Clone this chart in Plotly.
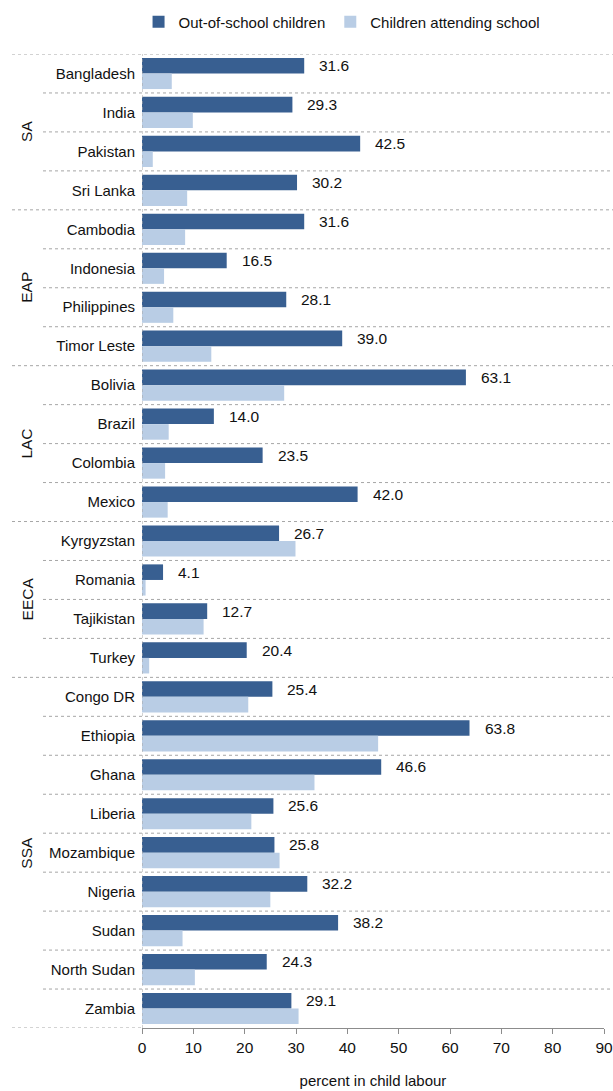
import plotly.graph_objects as go

countries = ["Bangladesh", "India", "Pakistan", "Sri Lanka",
             "Cambodia", "Indonesia", "Philippines", "Timor Leste",
             "Bolivia", "Brazil", "Colombia", "Mexico",
             "Kyrgyzstan", "Romania", "Tajikistan", "Turkey",
             "Congo DR", "Ethiopia", "Ghana", "Liberia", "Mozambique",
             "Nigeria", "Sudan", "North Sudan", "Zambia"]
regions = ["SA", "EAP", "LAC", "EECA", "SSA"]
region_sizes = [4, 4, 4, 4, 9]
out_of_school = [31.6, 29.3, 42.5, 30.2,
                 31.6, 16.5, 28.1, 39.0,
                 63.1, 14.0, 23.5, 42.0,
                 26.7, 4.1, 12.7, 20.4,
                 25.4, 63.8, 46.6, 25.6, 25.8, 32.2, 38.2, 24.3, 29.1]
attending = [5.8, 9.9, 2.1, 8.8,
             8.4, 4.3, 6.1, 13.5,
             27.7, 5.2, 4.5, 5.0,
             29.9, 0.7, 12.0, 1.4,
             20.7, 46.0, 33.6, 21.3, 26.8, 25.0, 7.9, 10.3, 30.5]
x_ticks = [0, 10, 20, 30, 40, 50, 60, 70, 80, 90]

DARK = "#385f91"
LIGHT = "#b9cde5"
FONT = "Liberation Sans, Arial, sans-serif"
FS = 15

W, H = 613, 1091
ML, MR, MT, MB = 142, 9, 54, 63
pw = W - ML - MR

def px2paper(px):
    return (px - ML) / pw

idx = list(range(len(countries)))
bargap = 0.2

fig = go.Figure()
fig.add_trace(go.Bar(y=idx, x=out_of_school, orientation="h", name="Out-of-school children",
                     marker=dict(color=DARK, line=dict(width=0))))
fig.add_trace(go.Bar(y=idx, x=attending, orientation="h", name="Children attending school",
                     marker=dict(color=LIGHT, line=dict(width=0))))

half = (1 - bargap) / 2
annotations = []
for i, v in enumerate(out_of_school):
    annotations.append(dict(x=v, y=i - half / 2, xref="x", yref="y", text=f"{v:.1f}",
                            showarrow=False, xanchor="left", xshift=13,
                            font=dict(family=FONT, size=FS + 0.5, color="#111111")))

shapes = []
start = 0
group_bounds = set()
for r, n in zip(regions, region_sizes):
    group_bounds.add(start - 0.5)
    mid = start + (n - 1) / 2
    annotations.append(dict(x=px2paper(27), y=mid, xref="paper", yref="y", text=r,
                            showarrow=False, textangle=-90, xanchor="center", yanchor="middle",
                            font=dict(family=FONT, size=FS + 0.5, color="#111111")))
    start += n
group_bounds.add(start - 0.5)

for k in range(len(countries) + 1):
    b = k - 0.5
    x0 = px2paper(12) if b in group_bounds else px2paper(43)
    x1 = px2paper(613) if k < len(countries) else px2paper(ML)
    shapes.append(dict(type="line", xref="paper", yref="y", x0=x0, x1=x1, y0=b, y1=b,
                       line=dict(color="#a6a6a6", width=1, dash="dot"), layer="below"))
shapes.append(dict(type="line", xref="x", yref="paper", x0=0, x1=0, y0=0, y1=1,
                   line=dict(color="#a6a6a6", width=1, dash="dot"), layer="above"))

fig.update_layout(
    width=W, height=H,
    margin=dict(l=ML, r=MR, t=MT, b=MB, autoexpand=False),
    paper_bgcolor="white", plot_bgcolor="white",
    barmode="group", bargap=bargap, bargroupgap=0,
    font=dict(family=FONT, size=FS, color="#111111"),
    legend=dict(orientation="h", x=0.558, xref="container", xanchor="center",
                y=1 - 22 / H, yref="container", yanchor="middle",
                font=dict(family=FONT, size=FS), traceorder="normal",
                bgcolor="rgba(0,0,0,0)", itemwidth=30, tracegroupgap=0),
    xaxis=dict(range=[0, 90], tickvals=x_ticks, showgrid=False, zeroline=False,
               showline=True, linecolor="#8c8c8c", linewidth=1, ticks="outside",
               ticklen=5, tickcolor="#8c8c8c", automargin=False,
               ticklabeloverflow="allow",
               title=dict(text="percent in child labour", standoff=20,
                          font=dict(family=FONT, size=FS)),
               tickfont=dict(family=FONT, size=FS + 0.5)),
    yaxis=dict(tickvals=idx, ticktext=countries, autorange=False, automargin=False,
               range=[len(countries) - 0.5, -0.5], showgrid=False, zeroline=False,
               showline=False, ticks="", ticklabelstandoff=6,
               tickfont=dict(family=FONT, size=FS)),
    shapes=shapes, annotations=annotations,
)

fig.write_html("out.html", config={"displayModeBar": False},
               post_script="document.body.style.margin='0';document.body.style.overflow='hidden';")
